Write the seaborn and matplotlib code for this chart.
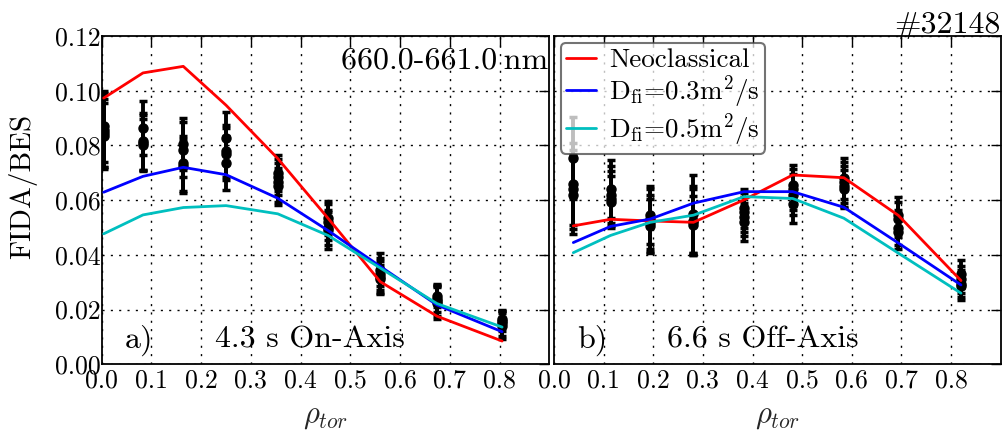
import matplotlib
matplotlib.use("Agg")
import matplotlib.pyplot as plt
import numpy as np
import pandas as pd
import seaborn as sns

# ---- data ----
# a) 4.3 s on-axis
rho_a = [0.004, 0.083, 0.164, 0.250, 0.354, 0.455, 0.560, 0.674, 0.805]
neo_a = [0.0973, 0.1065, 0.1089, 0.0947, 0.0752, 0.0534, 0.0302, 0.0176, 0.0085]
d03_a = [0.0629, 0.0687, 0.0720, 0.0693, 0.0607, 0.0489, 0.0358, 0.0217, 0.0119]
d05_a = [0.0477, 0.0546, 0.0573, 0.0580, 0.0550, 0.0471, 0.0352, 0.0222, 0.0136]
meas_a = [
    [0.0855, 0.0864, 0.0805, 0.0828, 0.0700, 0.0535, 0.0345, 0.0250, 0.0165],
    [0.0835, 0.0810, 0.0785, 0.0780, 0.0685, 0.0520, 0.0330, 0.0240, 0.0160],
    [0.0870, 0.0800, 0.0735, 0.0770, 0.0665, 0.0500, 0.0320, 0.0230, 0.0150],
    [0.0845, 0.0815, 0.0725, 0.0735, 0.0650, 0.0490, 0.0310, 0.0225, 0.0140],
]
err_a = [
    [0.0135, 0.0100, 0.0095, 0.0095, 0.0065, 0.0062, 0.0060, 0.0042, 0.0030],
    [0.0120, 0.0100, 0.0100, 0.0095, 0.0065, 0.0065, 0.0060, 0.0050, 0.0038],
    [0.0130, 0.0095, 0.0100, 0.0095, 0.0070, 0.0065, 0.0058, 0.0055, 0.0045],
    [0.0125, 0.0105, 0.0100, 0.0098, 0.0068, 0.0068, 0.0052, 0.0058, 0.0048],
]

# b) 6.6 s off-axis
rho_b = [0.039, 0.114, 0.194, 0.281, 0.383, 0.481, 0.584, 0.694, 0.820]
neo_b = [0.0506, 0.0530, 0.0524, 0.0519, 0.0601, 0.0692, 0.0682, 0.0544, 0.0306]
d03_b = [0.0445, 0.0504, 0.0531, 0.0589, 0.0631, 0.0631, 0.0574, 0.0443, 0.0290]
d05_b = [0.0408, 0.0471, 0.0519, 0.0545, 0.0613, 0.0606, 0.0534, 0.0406, 0.0260]
meas_b = [
    [0.0755, 0.0640, 0.0545, 0.0550, 0.0570, 0.0655, 0.0680, 0.0545, 0.0330],
    [0.0660, 0.0620, 0.0530, 0.0525, 0.0555, 0.0640, 0.0665, 0.0530, 0.0310],
    [0.0620, 0.0605, 0.0515, 0.0510, 0.0540, 0.0620, 0.0650, 0.0500, 0.0295],
    [0.0640, 0.0595, 0.0505, 0.0520, 0.0520, 0.0585, 0.0640, 0.0485, 0.0285],
]
err_b = [
    [0.0150, 0.0105, 0.0105, 0.0143, 0.0070, 0.0075, 0.0075, 0.0065, 0.0050],
    [0.0150, 0.0105, 0.0110, 0.0125, 0.0070, 0.0075, 0.0075, 0.0065, 0.0050],
    [0.0145, 0.0100, 0.0105, 0.0105, 0.0070, 0.0075, 0.0075, 0.0065, 0.0050],
    [0.0145, 0.0095, 0.0100, 0.0120, 0.0068, 0.0070, 0.0070, 0.0062, 0.0050],
]

models = ["Neoclassical", r"D$_{\rm fi}$=0.3m$^2$/s", r"D$_{\rm fi}$=0.5m$^2$/s"]
colors = {models[0]: "#ff0000", models[1]: "#0000ff", models[2]: "#00bfbf"}


def model_frame(rho, neo, d03, d05):
    parts = []
    for name, vals in zip(models, [neo, d03, d05]):
        parts.append(pd.DataFrame({"rho": rho, "ratio": vals, "model": name}))
    return pd.concat(parts, ignore_index=True)


sns.set_theme(style="white")
plt.rcParams.update({
    "font.family": ["cmr10", "DejaVu Serif"],
    "mathtext.fontset": "cm",
    "axes.formatter.use_mathtext": True,
    "axes.edgecolor": "black",
    "axes.linewidth": 1.3,
    "xtick.direction": "in",
    "ytick.direction": "in",
    "xtick.top": True,
    "ytick.right": True,
    "xtick.major.size": 7,
    "ytick.major.size": 7,
    "xtick.major.width": 1.0,
    "ytick.major.width": 1.0,
    "xtick.color": "black",
    "ytick.color": "black",
    "xtick.major.pad": 3,
    "ytick.major.pad": 1,
    "xtick.labelsize": 18.5,
    "ytick.labelsize": 18.5,
    "text.color": "black",
})

fig = plt.figure(figsize=(10.03, 4.32), dpi=100)
ax_a = fig.add_axes([0.1014, 0.1567, 0.4463, 0.760])
ax_b = fig.add_axes([0.5523, 0.1567, 0.4454, 0.760])

panels = [
    (ax_a, rho_a, neo_a, d03_a, d05_a, meas_a, err_a, "a)", "4.3 s On-Axis"),
    (ax_b, rho_b, neo_b, d03_b, d05_b, meas_b, err_b, "b)", "6.6 s Off-Axis"),
]

for ax, rho, neo, d03, d05, meas, err, tag, label in panels:
    for vals, errs in zip(meas, err):
        ax.errorbar(rho, vals, yerr=errs, fmt="o", color="black", ms=6.5,
                    elinewidth=2.8, capsize=3, capthick=2.5, zorder=2)
    sns.lineplot(data=model_frame(rho, neo, d03, d05), x="rho", y="ratio",
                 hue="model", palette=colors, estimator=None, linewidth=2,
                 ax=ax, legend=(ax is ax_b), zorder=3)
    ax.set_xlim(0, 0.9)
    ax.set_ylim(0, 0.12)
    ax.set_xticks(np.arange(0, 0.81, 0.1))
    ax.set_xticklabels([f"{t:.1f}" for t in np.arange(0, 0.81, 0.1)])
    ax.set_yticks(np.arange(0, 0.121, 0.02))
    ax.grid(True, color="black", linestyle=(0, (1.5, 4.5)), linewidth=1.0)
    ax.set_axisbelow(True)
    ax.set_xlabel(r"$\rho_{tor}$", fontsize=22, labelpad=8)
    ax.set_ylabel("")
    ax.text(0.052, 0.05, tag, transform=ax.transAxes, fontsize=23,
            va="baseline")
    ax.text(0.253, 0.05, label, transform=ax.transAxes, fontsize=23,
            va="baseline")

ax_a.set_yticklabels([f"{t:.2f}" for t in np.arange(0, 0.121, 0.02)])
ax_b.set_yticklabels([])
ax_a.text(0.997, 0.90, "660.0-661.0\u2009nm", transform=ax_a.transAxes,
          fontsize=23, ha="right", va="baseline")

leg = ax_b.legend(loc="upper left", bbox_to_anchor=(0.0, 1.0), fontsize=19.5,
                  handlelength=1.1, handletextpad=0.5, borderpad=0.2,
                  labelspacing=0.05, borderaxespad=0.25, framealpha=0.75,
                  fancybox=True)
leg.get_frame().set_edgecolor("#444444")
leg.get_frame().set_linewidth(1.5)
leg.set_zorder(5)

fig.text(0.023, 0.568, "FIDA/BES", rotation=90, fontsize=21,
         ha="center", va="center")
fig.text(0.998, 0.924, "#32148", fontsize=23, ha="right", va="baseline")

fig.savefig("out.png", dpi=100)
